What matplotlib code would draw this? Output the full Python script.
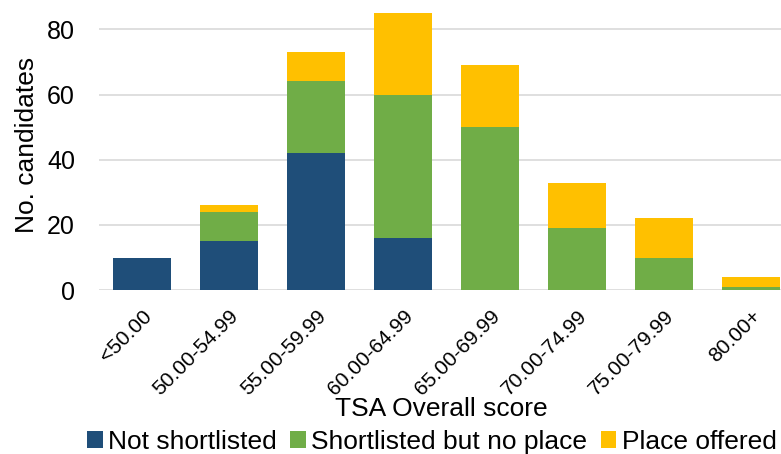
import numpy as np
import matplotlib.pyplot as plt

plt.rcParams['font.family'] = ['Liberation Sans', 'DejaVu Sans']

categories = ['<50.00', '50.00-54.99', '55.00-59.99', '60.00-64.99',
              '65.00-69.99', '70.00-74.99', '75.00-79.99', '80.00+']
not_shortlisted = [10, 15, 42, 16, 0, 0, 0, 0]
shortlisted_no_place = [0, 9, 22, 44, 50, 19, 10, 1]
place_offered = [0, 2, 9, 25, 19, 14, 12, 3]

ns = np.array(not_shortlisted)
sh = np.array(shortlisted_no_place)
po = np.array(place_offered)
x = np.arange(len(categories))

fig = plt.figure(figsize=(7.81, 4.54), dpi=100)
# plot area runs a little past the right edge, as in the original export
ax = fig.add_axes([0.1262, 0.361, 0.891, 0.639])

w = 0.667
ax.bar(x, ns, w, color='#1f4e79', label='Not shortlisted', zorder=3)
ax.bar(x, sh, w, bottom=ns, color='#70ad47', label='Shortlisted but no place', zorder=3)
ax.bar(x, po, w, bottom=ns + sh, color='#ffc000', label='Place offered', zorder=3)

ax.set_xlim(-0.5, len(categories) - 0.5)
ax.set_ylim(0, 89)
ax.set_yticks([0, 20, 40, 60, 80])
ax.yaxis.grid(True, color='#d9d9d9', linewidth=1.2, zorder=0)
for s in ax.spines.values():
    s.set_visible(False)
ax.tick_params(axis='both', length=0)
ax.tick_params(axis='y', pad=17, labelsize=18)
ax.tick_params(axis='x', pad=12)
ax.set_xticks(x)
ax.set_xticklabels(categories, rotation=45, ha='right', rotation_mode='anchor', fontsize=15)
ax.set_ylabel('No. candidates', fontsize=19, labelpad=6)
ax.set_xlabel('TSA Overall score', fontsize=19, labelpad=0)
ax.xaxis.set_label_coords(0.493, -0.37)

fig.legend(loc='lower center', bbox_to_anchor=(0.553, -0.04), ncol=3, frameon=False,
           fontsize=19, handlelength=0.6, handleheight=0.6, handletextpad=0.2,
           columnspacing=0.5, borderpad=0.2)

fig.savefig('out.png', dpi=100)
